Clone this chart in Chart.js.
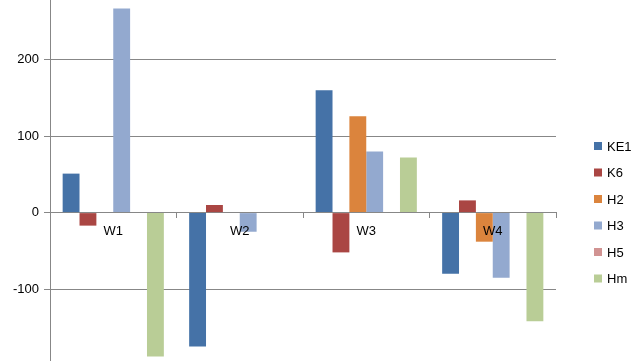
<!DOCTYPE html>
<html>
<head>
<meta charset="utf-8">
<script src="https://cdn.jsdelivr.net/npm/chart.js@4/dist/chart.umd.min.js"></script>
<style>
  html, body { margin: 0; padding: 0; background: #fff; }
  #wrap { width: 640px; height: 361px; position: relative; }
</style>
</head>
<body>
<div id="wrap"><canvas id="chart"></canvas></div>
<script>
// values
var weeks = ['W1', 'W2', 'W3', 'W4'];
var ke1 = [51, -175, 160, -80];
var k6 = [-17, 10, -52, 16];
var h2 = [null, null, 126, -38];
var h3 = [267, -25, 80, -85];
var h5 = [null, null, null, null];
var hm = [-188, null, 72, -142];
var yTicks = [-100, 0, 100, 200];

var gridColor = '#878787';
var font = { family: 'Liberation Sans', size: 13 };

// legend drawn by hand so it sits where the original does
var sideLegend = {
    id: 'sideLegend',
    afterDraw: function(chart) {
        var ctx = chart.ctx;
        var sets = chart.data.datasets;
        ctx.save();
        ctx.font = font.size + 'px ' + font.family;
        ctx.textBaseline = 'middle';
        ctx.textAlign = 'left';
        sets.forEach(function(ds, i) {
            var y = 146 + i * 26.5;
            ctx.fillStyle = ds.backgroundColor;
            ctx.fillRect(594, y - 4, 8, 8);
            ctx.fillStyle = '#000';
            ctx.fillText(ds.label, 607, y + 1);
        });
        ctx.restore();
    }
};

function series(label, data, color) {
    return { label: label, data: data, backgroundColor: color, borderWidth: 0 };
}

function noPad(scale) {
    scale.paddingTop = 0;
    scale.paddingBottom = 0;
}

new Chart(document.getElementById('chart'), {
    type: 'bar',
    data: {
        labels: weeks,
        datasets: [
            series('KE1', ke1, '#4572A7'),
            series('K6', k6, '#AA4643'),
            series('H2', h2, '#DB843D'),
            series('H3', h3, '#93A9CF'),
            series('H5', h5, '#D19392'),
            series('Hm', hm, '#B9CD96')
        ]
    },
    options: {
        responsive: true,
        maintainAspectRatio: false,
        animation: false,
        layout: { padding: { left: 0, right: 84, top: 0, bottom: 0 } },
        datasets: { bar: { categoryPercentage: 0.8, barPercentage: 1.0 } },
        scales: {
            x: {
                position: { y: 0 },
                offset: true,
                afterFit: noPad,
                grid: { offset: true, drawOnChartArea: false, drawTicks: true, tickLength: 5, color: gridColor },
                border: { display: true, color: gridColor },
                ticks: { color: '#000', font: font, padding: 6, z: 1 }
            },
            y: {
                min: -194,
                max: 278,
                afterFit: function(scale) {
                    scale.width = 50;
                    noPad(scale);
                },
                afterBuildTicks: function(scale) {
                    scale.ticks = yTicks.map(function(v) { return { value: v }; });
                },
                grid: { color: gridColor, tickLength: 6 },
                border: { display: true, color: gridColor },
                ticks: { color: '#000', font: font, padding: 5 }
            }
        },
        plugins: {
            legend: { display: false },
            tooltip: { enabled: false }
        }
    },
    plugins: [sideLegend]
});
</script>
</body>
</html>
